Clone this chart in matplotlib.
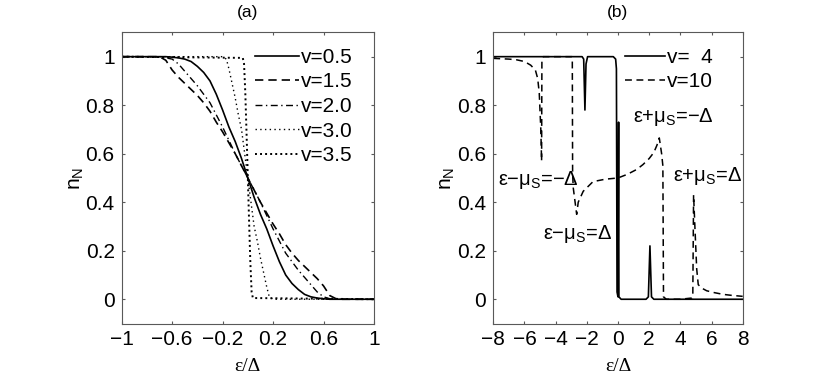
import numpy as np
import matplotlib
matplotlib.use('Agg')
import matplotlib.pyplot as plt

plt.rcParams['font.family'] = ['Liberation Sans', 'DejaVu Sans']
plt.rcParams['mathtext.default'] = 'regular'

# panel (a): n_N vs eps/Delta for several v
x_smooth = [-1.0, -0.95, -0.9, -0.85, -0.8, -0.75, -0.7, -0.65, -0.6, -0.55,
            -0.5, -0.45, -0.4, -0.35, -0.3, -0.25, -0.2, -0.15, -0.1, -0.05,
            0.0, 0.05, 0.1, 0.15, 0.2, 0.25, 0.3, 0.35, 0.4, 0.45,
            0.5, 0.55, 0.6, 0.65, 0.7, 0.75, 0.8, 0.85, 0.9, 0.95, 1.0]
n_v05 = [1, 1, 1, 1, 1, 1, 1, 1, 0.998, 0.995,
         0.99, 0.98, 0.96, 0.935, 0.9, 0.845, 0.78, 0.71, 0.65, 0.58,
         0.5, 0.42, 0.35, 0.29, 0.22, 0.155, 0.1, 0.065, 0.04, 0.02,
         0.01, 0.005, 0.002, 0, 0, 0, 0, 0, 0, 0, 0]
n_v15 = [1, 1, 1, 1, 1, 1, 1, 0.985, 0.945, 0.915,
         0.89, 0.865, 0.84, 0.81, 0.775, 0.73, 0.69, 0.645, 0.6, 0.55,
         0.5, 0.45, 0.4, 0.355, 0.31, 0.27, 0.225, 0.19, 0.16, 0.135,
         0.11, 0.085, 0.055, 0.015, 0.002, 0, 0, 0, 0, 0, 0]
n_v20 = [1, 1, 1, 1, 1, 1, 0.998, 0.995, 0.99, 0.97,
         0.94, 0.91, 0.88, 0.845, 0.81, 0.76, 0.71, 0.655, 0.6, 0.55,
         0.5, 0.45, 0.4, 0.345, 0.29, 0.24, 0.19, 0.155, 0.12, 0.09,
         0.06, 0.03, 0.01, 0.002, 0, 0, 0, 0, 0, 0, 0]

x_v30 = [-1.0, -0.2, -0.17, -0.15, -0.125, -0.1, -0.075, -0.05, -0.025, 0.0,
         0.025, 0.05, 0.075, 0.1, 0.125, 0.15, 0.17, 0.2, 1.0]
n_v30 = [1, 1, 0.99, 0.95, 0.89, 0.83, 0.76, 0.7, 0.6, 0.5,
         0.4, 0.3, 0.24, 0.17, 0.11, 0.05, 0.01, 0, 0]
x_v35 = [-1.0, -0.04, -0.03, -0.02, -0.01, 0.0, 0.01, 0.02, 0.03, 0.04, 1.0]
n_v35 = [1, 0.995, 0.97, 0.85, 0.68, 0.5, 0.32, 0.15, 0.03, 0.005, 0]

# panel (b)
x_v4 = [-8, -2.3, -2.2, -2.12, -2.05, -1.95, -0.3, -0.15, -0.1, -0.08,
        -0.06, 0.0, 0.04, 0.06, 0.2, 1.8, 1.95, 2.05, 2.15, 2.3, 8]
n_v4 = [1, 1, 0.99, 0.78, 0.97, 1, 1, 0.99, 0.95, 0.5,
        0.03, 0.01, 0.73, 0.01, 0, 0, 0.01, 0.22, 0.01, 0, 0]
x_v10 = [-8, -7, -6.5, -6, -5.6, -5.3, -5.15, -5.05, -4.95, -4.9,
         -4.88, -4.8, -4.0, -3.2, -2.95, -2.93, -2.91, -2.87, -2.65, -2.55,
         -2.23, -1.6, -0.8, 0.0, 0.6, 1.2, 1.6, 2.0, 2.3, 2.5,
         2.65, 2.8, 2.88, 2.92, 3.1, 4.0, 4.73, 4.8, 4.85, 4.94,
         5.05, 5.15, 5.4, 5.69, 6.2, 6.76, 7.3, 8]
n_v10 = [0.993, 0.99, 0.987, 0.98, 0.965, 0.945, 0.91, 0.85, 0.7, 0.57,
         0.98, 1.0, 1.0, 1.0, 1.0, 0.99, 0.52, 0.46, 0.35, 0.4,
         0.445, 0.485, 0.495, 0.5, 0.515, 0.535, 0.555, 0.58, 0.605, 0.635,
         0.665, 0.6, 0.55, 0.01, 0, 0, 0.005, 0.01, 0.43, 0.29,
         0.125, 0.06, 0.045, 0.035, 0.027, 0.02, 0.016, 0.012]

ax_col = '0.35'
tick_fs = 15

fig = plt.figure(figsize=(8.3, 3.76), dpi=100)
ax1 = fig.add_axes([0.1466, 0.1396, 0.304, 0.7742])
ax2 = fig.add_axes([0.5943, 0.1396, 0.3005, 0.7742])

ax1.plot(x_smooth, n_v05, color='k', lw=1.2, label='v=0.5')
ax1.plot(x_smooth, n_v15, color='k', lw=1.2, dashes=(5, 3), label='v=1.5')
ax1.plot(x_smooth, n_v20, color='k', lw=1.0, dashes=(5, 2.5, 1, 2.5), label='v=2.0')
ax1.plot(x_v30, n_v30, color='k', lw=1.0, dashes=(1, 2.4), label='v=3.0')
ax1.plot(x_v35, n_v35, color='k', lw=1.4, dashes=(1, 1.6), label='v=3.5')

ax2.plot(x_v4, n_v4, color='k', lw=1.2, label='v=  4')
ax2.plot(x_v10, n_v10, color='k', lw=1.1, dashes=(4.5, 3), label='v=10')

ann_fs = 14.5
ax2.text(-7.72, 0.47, r'ε−μ$_S$=−Δ', fontsize=ann_fs)
ax2.text(-4.79, 0.25, r'ε−μ$_S$=Δ', fontsize=ann_fs)
ax2.text(0.98, 0.73, r'ε+μ$_S$=−Δ', fontsize=ann_fs)
ax2.text(3.55, 0.486, r'ε+μ$_S$=Δ', fontsize=ann_fs, clip_on=False)

for ax, title in [(ax1, '(a)'), (ax2, '(b)')]:
    ax.set_ylim(-0.1, 1.1)
    ax.set_yticks([0, 0.2, 0.4, 0.6, 0.8, 1])
    ax.set_yticklabels(['0', '0.2', '0.4', '0.6', '0.8', '1'])
    ax.tick_params(direction='in', top=True, right=True, length=2.5,
                   width=0.8, color=ax_col, labelsize=tick_fs, pad=5)
    for s in ax.spines.values():
        s.set_color(ax_col)
        s.set_linewidth(0.8)
    ax.set_title(title, fontsize=12.5, pad=11)
    ax.set_xlabel('ε/Δ', fontsize=14, family=['Liberation Serif', 'DejaVu Serif'], labelpad=6)
    ax.set_ylabel(r'n$_N$', fontsize=15, labelpad=0)

ax1.set_xlim(-1, 1)
ax1.set_xticks([-1, -0.6, -0.2, 0.2, 0.6, 1])
ax1.set_xticklabels(['−1', '−0.6', '−0.2', '0.2', '0.6', '1'])
ax2.set_xlim(-8, 8)
ax2.set_xticks([-8, -6, -4, -2, 0, 2, 4, 6, 8])
ax2.set_xticklabels(['−8', '−6', '−4', '−2', '0', '2', '4', '6', '8'])

ax1.legend(loc='upper right', frameon=False, fontsize=tick_fs, handlelength=2.1,
           handletextpad=0.1, labelspacing=0.27, borderaxespad=0.2,
           bbox_to_anchor=(0.965, 0.99))
ax2.legend(loc='upper right', frameon=False, fontsize=tick_fs, handlelength=1.9,
           handletextpad=0.1, labelspacing=0.27, borderaxespad=0.2,
           bbox_to_anchor=(0.93, 0.99))

fig.savefig('out.png', dpi=100)
